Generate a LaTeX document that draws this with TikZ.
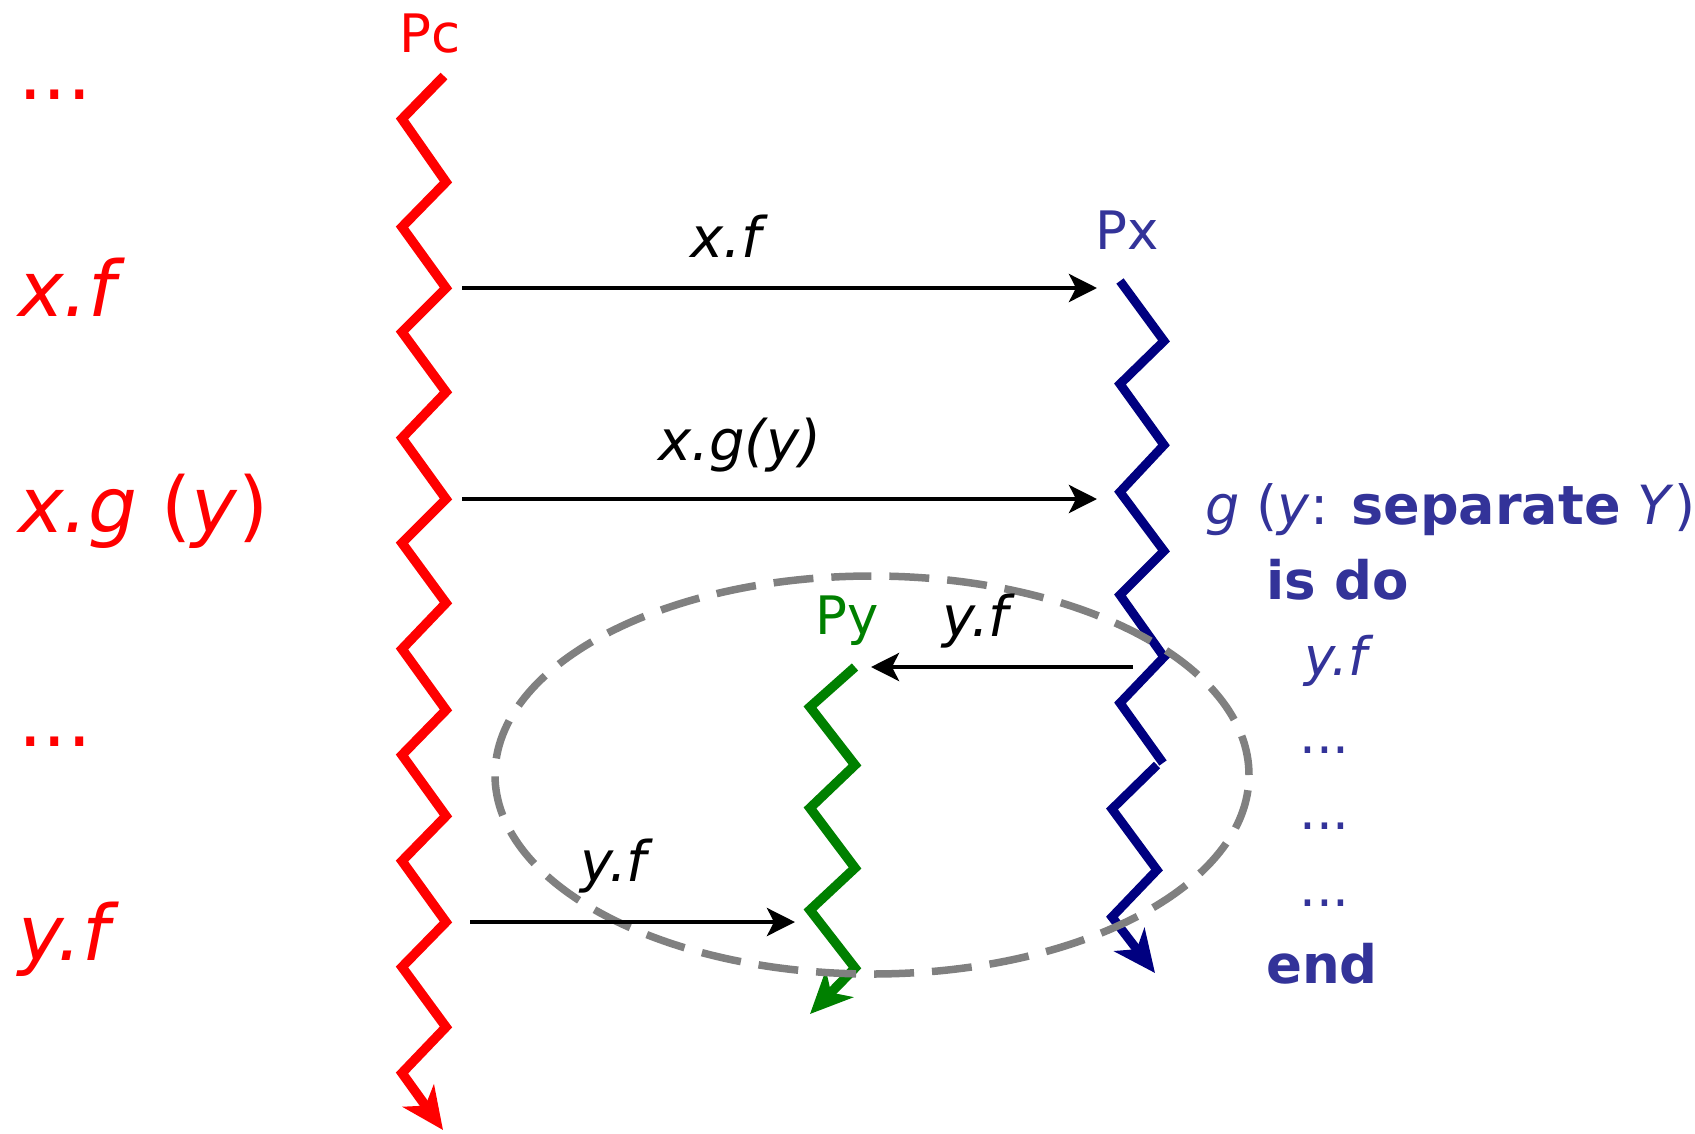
\documentclass[tikz,border=0pt]{standalone}
\usepackage{fontspec}
\setmainfont{DejaVu Sans}
\usetikzlibrary{arrows.meta}
\definecolor{pxblue}{RGB}{0,0,128}
\definecolor{txtblue}{RGB}{51,51,153}
\definecolor{pygreen}{RGB}{0,128,0}
\definecolor{ovgray}{RGB}{128,128,128}
\begin{document}
\begin{tikzpicture}[x=1pt,y=-1pt,
  lbl/.style={anchor=base west,inner sep=0pt},
  msg/.style={draw=black,line width=4.2pt,-{Stealth[length=28pt,width=28pt,inset=7pt]}},
  proc/.style={line width=9.5pt,line join=miter,miter limit=4},
  ptip/.style={-{Stealth[length=42pt,width=38pt,inset=12pt]}},
  big/.style={font=\fontsize{77}{90}\selectfont},
  mid/.style={font=\fontsize{53}{62}\selectfont},
  lab/.style={font=\fontsize{56}{66}\selectfont},
]
\useasboundingbox[fill=white] (0,0) rectangle (1695,1133);

% process Pc
\draw[proc,red,ptip] (444,76) -- (402,119) -- (446,182) -- (402,227) -- (446,288) -- (402,332)
  -- (446,392) -- (402,438) -- (446,499) -- (402,543) -- (446,603) -- (402,649) -- (446,710)
  -- (402,755) -- (446,816) -- (402,861) -- (446,922) -- (402,967) -- (446,1027) -- (402,1073)
  -- (443,1130);
% process Px
\draw[proc,pxblue,line width=9pt] (1120,281) -- (1164,341) -- (1120,384) -- (1164,445) -- (1120,492)
  -- (1164,551) -- (1120,595) -- (1164,657) -- (1120,703) -- (1163,763);
\draw[proc,pxblue,line width=9pt,ptip] (1157,765) -- (1112,809) -- (1157,870) -- (1112,917) -- (1155,973);
% process Py
\draw[proc,pygreen,ptip] (855,667) -- (810,707) -- (855,765) -- (810,808) -- (855,868) -- (810,910)
  -- (855,968) -- (810,1014);

% region
\draw[ovgray,line width=7.5pt,dash pattern=on 40pt off 18pt] (872,775) ellipse [x radius=377pt, y radius=199pt];

% messages
\coordinate (a1s) at (462,288); \coordinate (a1e) at (1097,288);
\coordinate (a2s) at (462,499); \coordinate (a2e) at (1097,499);
\coordinate (a3s) at (1133,667); \coordinate (a3e) at (871,667);
\coordinate (a4s) at (470,922); \coordinate (a4e) at (795,922);
\draw[msg] (a1s) -- (a1e);
\draw[msg] (a2s) -- (a2e);
\draw[msg] (a3s) -- (a3e);
\draw[msg] (a4s) -- (a4e);

% process names
\node[lbl,red,mid] (pc) at (399,52) {Pc};
\node[lbl,txtblue,mid] (px) at (1095,249) {Px};
\node[lbl,pygreen,mid] (py) at (815,634) {Py};

% message labels
\node[lbl,lab] (m1) at (690,257) {\itshape x.f};
\node[lbl,lab] (m2) at (658,460) {\itshape x.g(y)};
\node[lbl,lab] (m3) at (942,636) {\itshape y.f};
\node[lbl,lab] (m4) at (580,881) {\itshape y.f};

% client code
\node[lbl,red,big] (c1) at (18,99) {...};
\node[lbl,red,big] (c2) at (18,316) {\itshape x.f};
\node[lbl,red,big] (c3) at (18,532) {\textit{x.g} (\textit{y})};
\node[lbl,red,big] (c4) at (18,746) {...};
\node[lbl,red,big] (c5) at (18,960) {\itshape y.f};

% supplier code
\node[lbl,txtblue,font=\fontsize{54}{64}\selectfont] (s1) at (1205,524) {\textit{g} (\textit{y}: \textbf{separate} \textit{Y})};
\node[lbl,txtblue,mid] (s2) at (1266,599) {\bfseries is do};
\node[lbl,txtblue,mid] (s3) at (1304,675) {\itshape y.f};
\node[lbl,txtblue,mid] (s4) at (1299,753) {...};
\node[lbl,txtblue,mid] (s5) at (1299,829) {...};
\node[lbl,txtblue,mid] (s6) at (1299,906) {...};
\node[lbl,txtblue,mid] (s7) at (1266,983) {\bfseries end};
\end{tikzpicture}
\end{document}
